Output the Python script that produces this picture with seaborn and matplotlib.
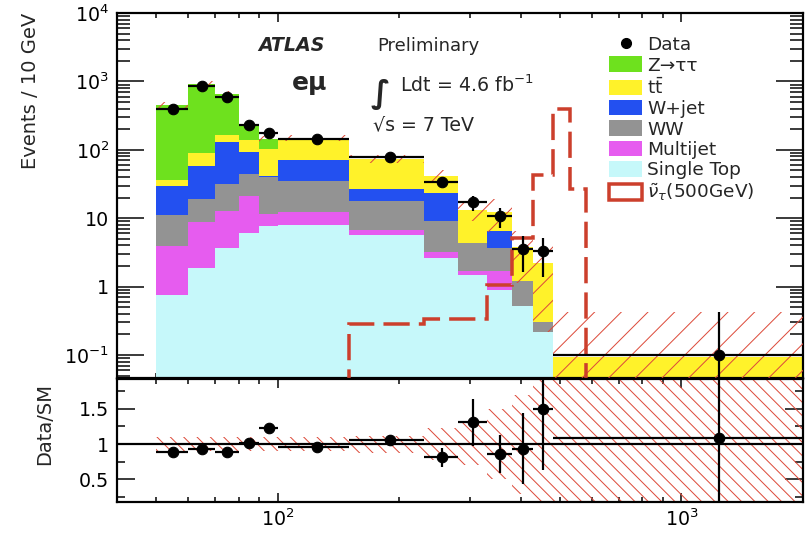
import numpy as np
import pandas as pd
import matplotlib
matplotlib.use("Agg")
import matplotlib.pyplot as plt
from matplotlib.patches import Rectangle
from matplotlib.lines import Line2D
from matplotlib.ticker import FixedLocator, FuncFormatter, NullFormatter
import seaborn as sns

# ---------------------------------------------------------------- data
bin_edges = [50, 60, 70, 80, 90, 100, 150, 230, 280, 330, 380, 430, 480, 2000]

ztautau    = [417.5, 835.5, 494.0, 88.0, 41.0, 0.5, 0, 0, 0, 0, 0, 0, 0]
ttbar      = [7.4, 32.5, 38.0, 46.0, 61.0, 78.0, 47.3, 18.7, 8.6, 5.9, 2.61, 1.9, 0.092]
wjet       = [17.9, 38.0, 96.4, 49.3, 1.0, 35.0, 8.7, 14.3, 0.05, 2.9, 0, 0, 0]
ww         = [7.3, 10.3, 19.0, 23.4, 28.4, 22.8, 11.2, 5.8, 2.68, 2.03, 0.67, 0.085, 0]
multijet   = [3.14, 6.83, 8.93, 15.2, 4.0, 4.2, 1.1, 0.6, 0.17, 0.77, 0, 0, 0]
single_top = [0.76, 1.87, 3.67, 6.1, 7.6, 8.0, 5.7, 2.6, 1.5, 0.90, 0.52, 0.215, 0]

bkg_rel_unc = [0.10, 0.10, 0.10, 0.10, 0.10, 0.10, 0.12, 0.22, 0.30, 0.50, 0.70, 0.90, 3.6]

data_vals = [400, 860, 590, 232, 175, 142, 78, 34, 17, 10.7, 3.55, 3.3, 0.10]
data_errs = [9, 17, 13, 5, 7, 4.5, 5, 5.9, 4.3, 3.4, 1.9, 1.9, 0.32]

signal_edges = [150, 230, 280, 330, 380, 430, 480, 530, 580]
signal_vals  = [0.28, 0.33, 0.33, 1.07, 5.2, 43, 400, 27]

process_names = ["Z→ττ", r"t$\bar{\mathrm{t}}$", "W+jet", "WW", "Multijet", "Single Top"]
process_vals = [ztautau, ttbar, wjet, ww, multijet, single_top]
process_colors = ["#6EE11E", "#FFF22A", "#2350F0", "#939393", "#E65CEF", "#C6F8FA"]
signal_label = r"$\tilde{\nu}_{\tau}$(500GeV)"

# ---------------------------------------------------------------- style
DPI = 80
W, H = 811, 536


def P(px):
    """pixels -> points at the figure dpi"""
    return px * 72.0 / DPI


sns.set_style("ticks")
plt.rcParams["font.family"] = ["DejaVu Sans"]
plt.rcParams["mathtext.fontset"] = "dejavusans"
plt.rcParams["hatch.linewidth"] = P(1.0)

RED = "#CC3F2C"
HATCH_RED = "#DD4B3B"

fig = plt.figure(figsize=(W / DPI, H / DPI), dpi=DPI)
fig.patch.set_facecolor("white")
L, R = 117 / W, 803 / W
ax = fig.add_axes([L, 1 - 378 / H, R - L, (378 - 13) / H])
axr = fig.add_axes([L, 1 - 502 / H, R - L, (502 - 379) / H], sharex=ax)

edges = np.array(bin_edges, float)
centers = 0.5 * (edges[:-1] + edges[1:])
lo_w = centers - edges[:-1]
hi_w = edges[1:] - centers

# ---------------------------------------------------------------- stacked backgrounds
rows = []
for name, vals in zip(process_names, process_vals):
    for c, v in zip(centers, vals):
        rows.append((c, name, v))
df = pd.DataFrame(rows, columns=["mass", "process", "events"])

sns.histplot(data=df, x="mass", weights="events", hue="process",
             hue_order=process_names, palette=dict(zip(process_names, process_colors)),
             bins=list(bin_edges), multiple="stack", element="step", fill=True,
             alpha=1, linewidth=0, legend=False, ax=ax)

total = np.sum(np.array(process_vals, float), axis=0)
rel = np.array(bkg_rel_unc)
band_lo = np.clip(total * (1 - rel), 1e-4, None)
band_hi = total * (1 + rel)

ax.set_xscale("log")
ax.set_yscale("log")

# background uncertainty band
ax.stairs(band_hi, edges, baseline=band_lo, fill=True, facecolor="none",
          edgecolor=HATCH_RED, hatch="/", linewidth=0, zorder=3)

# signal
ax.stairs(signal_vals, signal_edges, baseline=1e-4, color=RED, linewidth=P(3.5),
          linestyle=(0, (7.5, 2.6)), zorder=4)

# data
data = np.array(data_vals)
derr = np.array(data_errs)
ax.errorbar(centers, data, xerr=[lo_w, hi_w], yerr=derr, fmt="o", color="black",
            ms=P(10.5), elinewidth=P(2.2), capsize=0, zorder=5)

ax.set_xlim(40, 2000)
ax.set_ylim(0.046, 1e4)
ax.set_xlabel("")
ax.set_ylabel("Events / 10 GeV", fontsize=P(19.5), loc="top")
ax.yaxis.set_label_coords(-0.112, 1.0)

ylab = {0.1: r"$10^{-1}$", 1: "1", 10: "10", 100: r"$10^{2}$", 1000: r"$10^{3}$", 10000: r"$10^{4}$"}
ax.yaxis.set_major_locator(FixedLocator(list(ylab.keys())))
ax.yaxis.set_major_formatter(FuncFormatter(lambda v, p: ylab.get(round(v, 6) if v < 1 else round(v), "")))
yminor = [m * 10.0 ** e for e in range(-2, 4) for m in range(2, 10)]
ax.yaxis.set_minor_locator(FixedLocator(yminor))
ax.yaxis.set_minor_formatter(NullFormatter())
plt.setp(ax.get_xticklabels(which="both"), visible=False)

# ---------------------------------------------------------------- ratio panel
ratio = data / total
ratio_err = derr / total
axr.stairs(1 + rel, edges, baseline=1 - rel, fill=True, facecolor="none",
           edgecolor=HATCH_RED, hatch="\\\\", linewidth=0, zorder=2)
axr.axhline(1.0, color="black", linewidth=P(2.2), zorder=3)
axr.errorbar(centers, ratio, xerr=[lo_w, hi_w], yerr=ratio_err, fmt="o", color="black",
             ms=P(10.5), elinewidth=P(2.2), capsize=0, zorder=5)
axr.set_ylim(0.18, 1.92)
axr.set_ylabel("Data/SM", fontsize=P(19.5), loc="top")
axr.yaxis.set_label_coords(-0.092, 0.967)
axr.yaxis.set_major_locator(FixedLocator([0.5, 1.0, 1.5]))
axr.yaxis.set_major_formatter(FuncFormatter(lambda v, p: {0.5: "0.5", 1.0: "1", 1.5: "1.5"}.get(round(v, 2), "")))
axr.yaxis.set_minor_locator(FixedLocator([0.25, 0.75, 1.25, 1.75]))
axr.set_xlabel("")
axr.xaxis.set_major_locator(FixedLocator([100, 1000]))
axr.xaxis.set_major_formatter(FuncFormatter(lambda v, p: {100: r"$10^{2}$", 1000: r"$10^{3}$"}.get(round(v), "")))
xminor = [m * 10.0 ** e for e in range(1, 4) for m in range(2, 10)]
axr.xaxis.set_minor_locator(FixedLocator(xminor))
axr.xaxis.set_minor_formatter(NullFormatter())
axr.set_xlim(40, 2000)

# ---------------------------------------------------------------- axes cosmetics
for a in (ax, axr):
    a.set_facecolor("white")
    for s in a.spines.values():
        s.set_linewidth(P(2.2))
        s.set_color("black")
        s.set_visible(True)
    a.tick_params(which="both", direction="in", top=True, right=True,
                  width=P(1.5), colors="black", labelsize=P(19), pad=P(8))
    a.tick_params(axis="x", which="major", length=P(9))
    a.tick_params(axis="x", which="minor", length=P(5))
ax.tick_params(axis="y", which="major", length=P(27))
ax.tick_params(axis="y", which="minor", length=P(13))
axr.tick_params(axis="y", which="major", length=P(18))
axr.tick_params(axis="y", which="minor", length=P(8))
axr.tick_params(axis="x", which="major", pad=P(6))

# ---------------------------------------------------------------- legend
handles = [Line2D([], [], marker="o", color="black", linestyle="none", ms=P(10))]
for c in process_colors:
    handles.append(Rectangle((0, 0), 1, 1, facecolor=c, edgecolor="none"))
handles.append(Rectangle((0, 0), 1, 1, facecolor="none", edgecolor=RED, linewidth=P(3.5)))
labels = ["Data"] + process_names + [signal_label]
ax.legend(handles, labels, loc="upper left", bbox_to_anchor=((609 - 117) / 686, (378 - 36) / 365),
          frameon=False, fontsize=P(18.5), handlelength=1.8, handleheight=0.9,
          handletextpad=0.27, labelspacing=0.13, borderpad=0, borderaxespad=0)

# ---------------------------------------------------------------- annotations


def ftext(x, y, s, **kw):
    fig.text(x / W, 1 - y / H, s, va="baseline", ha="left", **kw)


ftext(258, 51, "ATLAS", fontsize=P(19), fontweight="bold", fontstyle="italic")
ftext(377, 51, "Preliminary", fontsize=P(18))
ftext(292, 90, "eμ", fontsize=P(25), fontweight="bold")
ftext(371, 103, "∫", fontsize=P(32), fontweight="bold")
ftext(400, 92, r"Ldt = 4.6 fb$^{-1}$", fontsize=P(19))
ftext(373, 130, "√s = 7 TeV", fontsize=P(19))

fig.savefig("out.png", dpi=DPI, facecolor="white")
